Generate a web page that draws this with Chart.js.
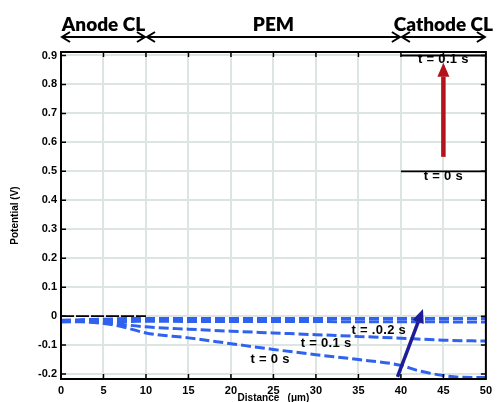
<!DOCTYPE html>
<html>
<head>
<meta charset="utf-8">
<script src="https://cdn.jsdelivr.net/npm/chart.js@4/dist/chart.umd.min.js"></script>
<style>
  html, body { margin: 0; padding: 0; background: #fff; }
  #wrap { width: 497px; height: 402px; }
</style>
</head>
<body>
<div id="wrap"><canvas id="chart" width="497" height="402"></canvas></div>
<script>
// electrolyte potential (dashed blue), distance in um
const xT0 = [0, 5, 7, 10, 15, 20, 25, 30, 35, 40, 42, 45, 47, 50];
const yT0 = [-0.015, -0.025, -0.035, -0.058, -0.075, -0.095, -0.115, -0.133, -0.15, -0.17, -0.188, -0.205, -0.211, -0.212];
const xT1 = [0, 5, 10, 15, 20, 25, 30, 35, 40, 45, 50];
const yT1 = [-0.015, -0.022, -0.037, -0.045, -0.052, -0.058, -0.064, -0.07, -0.076, -0.083, -0.086];
const xT2 = [0, 10, 50];
const yT2 = [-0.014, -0.008, -0.008];
const xT3 = [0, 10, 50];
const yT3 = [-0.02, -0.018, -0.02];

// electrode potential (solid black)
const anodeX = [0, 10];
const anodeY = [0, 0];
const cathodeX = [40, 50];
const cathodeY0 = [0.5, 0.5];
const cathodeY1 = [0.9, 0.9];

// region headers
const regions = [
  { name: "Anode CL", from: 0, to: 10 },
  { name: "PEM", from: 10, to: 40 },
  { name: "Cathode CL", from: 40, to: 50 },
];

// time labels
const labels = [
  { text: "t = 0.1 s", x: 45, y: 0.885 },
  { text: "t = 0 s", x: 45, y: 0.482 },
  { text: "t = .0.2 s", x: 37.4, y: -0.048 },
  { text: "t = 0.1 s", x: 31.2, y: -0.093 },
  { text: "t = 0 s", x: 24.6, y: -0.148 },
];

// arrows in data coords
const arrows = [
  { from: [45, 0.55], to: [45, 0.875], color: "#b3141b", width: 4.5 },
  { from: [39.6, -0.21], to: [42.6, 0.025], color: "#1d1d98", width: 3.5 },
];

const pts = (xs, ys) => xs.map((x, i) => ({ x: x, y: ys[i] }));

const BLUE = "#2f62ee";

function blueSet(xs, ys) {
  return {
    data: pts(xs, ys),
    borderColor: BLUE,
    borderWidth: 3,
    borderDash: [10, 4],
    pointRadius: 0,
    cubicInterpolationMode: "monotone",
    fill: false,
  };
}
function blackSet(xs, ys) {
  return {
    data: pts(xs, ys),
    borderColor: "#000",
    borderWidth: 1.8,
    pointRadius: 0,
    fill: false,
  };
}

function drawArrow(ctx, x1, y1, x2, y2, color, w) {
  const ang = Math.atan2(y2 - y1, x2 - x1);
  const head = 14;
  const hw = 6;
  const bx = x2 - head * Math.cos(ang);
  const by = y2 - head * Math.sin(ang);
  ctx.strokeStyle = color;
  ctx.fillStyle = color;
  ctx.lineWidth = w;
  ctx.beginPath();
  ctx.moveTo(x1, y1);
  ctx.lineTo(bx, by);
  ctx.stroke();
  ctx.beginPath();
  ctx.moveTo(x2, y2);
  ctx.lineTo(bx + hw * Math.sin(ang), by - hw * Math.cos(ang));
  ctx.lineTo(bx - hw * Math.sin(ang), by + hw * Math.cos(ang));
  ctx.closePath();
  ctx.fill();
}

function doubleArrow(ctx, x1, x2, y) {
  ctx.strokeStyle = "#000";
  ctx.lineWidth = 2;
  ctx.beginPath();
  ctx.moveTo(x1 + 1, y);
  ctx.lineTo(x2 - 1, y);
  ctx.moveTo(x1 + 9, y - 5);
  ctx.lineTo(x1 + 1, y);
  ctx.lineTo(x1 + 9, y + 5);
  ctx.moveTo(x2 - 9, y - 5);
  ctx.lineTo(x2 - 1, y);
  ctx.lineTo(x2 - 9, y + 5);
  ctx.stroke();
}

const extras = {
  id: "extras",
  afterDatasetsDraw(chart) {
    const ctx = chart.ctx;
    const xs = chart.scales.x;
    const ys = chart.scales.y;
    const a = chart.chartArea;
    ctx.save();

    // frame and mirrored inward ticks
    ctx.strokeStyle = "#000";
    ctx.lineWidth = 2;
    ctx.strokeRect(a.left, a.top, a.right - a.left, a.bottom - a.top);
    ctx.lineWidth = 1.5;
    ctx.beginPath();
    for (let v = 5; v < 50; v += 5) {
      const px = xs.getPixelForValue(v);
      ctx.moveTo(px, a.top); ctx.lineTo(px, a.top + 5);
      ctx.moveTo(px, a.bottom); ctx.lineTo(px, a.bottom - 5);
    }
    for (let v = -2; v <= 9; v++) {
      const py = ys.getPixelForValue(v / 10);
      ctx.moveTo(a.right, py); ctx.lineTo(a.right - 5, py);
      ctx.moveTo(a.left, py); ctx.lineTo(a.left + 5, py);
    }
    ctx.stroke();

    // time labels
    ctx.fillStyle = "#000";
    ctx.font = "bold 13px 'Liberation Sans', Arial, sans-serif";
    ctx.letterSpacing = "0.3px";
    ctx.textAlign = "center";
    ctx.textBaseline = "middle";
    labels.forEach(l => {
      ctx.fillText(l.text, xs.getPixelForValue(l.x), ys.getPixelForValue(l.y));
    });
    ctx.letterSpacing = "0px";

    // arrows
    arrows.forEach(ar => {
      drawArrow(ctx,
        xs.getPixelForValue(ar.from[0]), ys.getPixelForValue(ar.from[1]),
        xs.getPixelForValue(ar.to[0]), ys.getPixelForValue(ar.to[1]),
        ar.color, ar.width);
    });

    // region headers
    ctx.fillStyle = "#000";
    ctx.font = "800 19px Lato, 'DejaVu Sans', sans-serif";
    ctx.textBaseline = "alphabetic";
    regions.forEach(r => {
      const x1 = xs.getPixelForValue(r.from);
      const x2 = xs.getPixelForValue(r.to);
      doubleArrow(ctx, x1, x2, 37);
      ctx.fillText(r.name, (x1 + x2) / 2, 31);
    });
    ctx.restore();
  },
};

const tickFont = { family: "'Liberation Sans', Arial, sans-serif", size: 11, weight: "bold" };
const GRID = "#dce5e1";

new Chart(document.getElementById("chart"), {
  type: "line",
  data: {
    datasets: [
      blueSet(xT0, yT0),
      blueSet(xT1, yT1),
      blueSet(xT3, yT3),
      blueSet(xT2, yT2),
      Object.assign(blackSet(anodeX, anodeY), { borderDash: [13, 2] }),
      blackSet(cathodeX, cathodeY0),
      blackSet(cathodeX, cathodeY1),
    ],
  },
  options: {
    responsive: false,
    animation: false,
    layout: { padding: { top: 52, right: 10, left: 0, bottom: 0 } },
    plugins: { legend: { display: false }, tooltip: { enabled: false } },
    scales: {
      x: {
        type: "linear",
        min: 0,
        max: 50,
        afterFit: s => { s.height = 23; },
        ticks: { stepSize: 5, padding: 5, color: "#000", font: tickFont, maxRotation: 0 },
        grid: { color: GRID, lineWidth: 2, drawTicks: false },
        border: { display: false },
        title: {
          display: true,
          text: "Distance   (μm)",
          color: "#000",
          font: { family: "'Liberation Sans', Arial, sans-serif", size: 10, weight: "bold" },
          padding: { top: 0, bottom: -2 },
        },
      },
      y: {
        min: -0.217,
        max: 0.912,
        afterFit: s => { s.width = 61; },
        afterBuildTicks: s => {
          s.ticks = [-2, -1, 0, 1, 2, 3, 4, 5, 6, 7, 8, 9].map(v => ({ value: v / 10 }));
        },
        ticks: {
          padding: 4,
          color: "#000",
          font: tickFont,
          callback: v => (Math.abs(v) < 1e-9 ? "0" : (Math.round(v * 10) / 10).toString()),
        },
        grid: { color: GRID, lineWidth: 2, drawTicks: false },
        border: { display: false },
        title: {
          display: true,
          text: "Potential (V)",
          color: "#000",
          font: { family: "'Liberation Sans', Arial, sans-serif", size: 10, weight: "bold" },
          padding: { top: 9, bottom: 0 },
        },
      },
    },
  },
  plugins: [extras],
});
</script>
</body>
</html>
